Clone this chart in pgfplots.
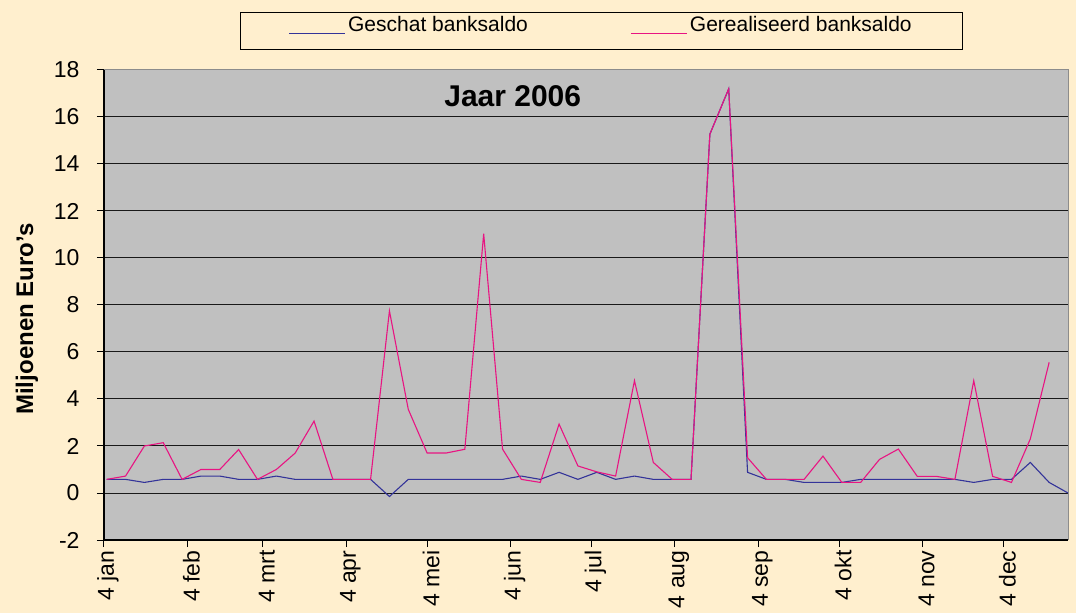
\documentclass[border=0pt]{standalone}
\usepackage{fontspec}
\setmainfont{Liberation Sans}
\usepackage{pgfplots}
\pgfplotsset{compat=1.18}
\usepackage{pgfplotstable}
\definecolor{bgcream}{RGB}{255,239,206}
\definecolor{plotgray}{RGB}{192,192,192}
\definecolor{geschat}{RGB}{51,51,153}
\definecolor{gereal}{RGB}{232,20,130}
\pgfplotstableread{
day val
1 0.58
8 0.58
15 0.45
22 0.58
29 0.58
36 0.72
43 0.72
50 0.58
57 0.58
64 0.72
71 0.58
78 0.58
85 0.58
92 0.58
99 0.58
106 -0.15
113 0.58
120 0.58
127 0.58
134 0.58
141 0.58
148 0.58
155 0.72
162 0.58
169 0.88
176 0.58
183 0.88
190 0.58
197 0.72
204 0.58
211 0.58
218 0.58
225 15.27
232 17.2
239 0.88
246 0.58
253 0.58
260 0.45
267 0.45
274 0.45
281 0.58
288 0.58
295 0.58
302 0.58
309 0.58
316 0.58
323 0.45
330 0.58
337 0.58
344 1.3
351 0.45
358 0.0
}\geschattab
\pgfplotstableread{
day val
1 0.58
8 0.72
15 2.0
22 2.14
29 0.58
36 1.0
43 1.0
50 1.85
57 0.58
64 1.0
71 1.7
78 3.06
85 0.58
92 0.58
99 0.58
106 7.75
113 3.56
120 1.7
127 1.7
134 1.86
141 11.03
148 1.87
155 0.58
162 0.45
169 2.93
176 1.15
183 0.9
190 0.72
197 4.78
204 1.3
211 0.58
218 0.58
225 15.27
232 17.2
239 1.5
246 0.58
253 0.58
260 0.58
267 1.57
274 0.45
281 0.45
288 1.43
295 1.87
302 0.71
309 0.71
316 0.58
323 4.78
330 0.71
337 0.45
344 2.3
351 5.56
}\gerealtab
\begin{document}
\begin{tikzpicture}
\fill[bgcream] (0,0) rectangle (1076pt,613pt);
\useasboundingbox (0,0) rectangle (1076pt,613pt);
\begin{axis}[
  at={(104pt,73pt)}, anchor=south west,
  width=964pt, height=470pt, scale only axis,
  xmin=0, xmax=358, ymin=-2, ymax=18,
  axis background/.style={fill=plotgray},
  axis x line*=bottom, axis y line*=left,
  axis line style={black, line width=1.2pt},
  tick align=outside, major tick length=7pt,
  tick style={black, line width=1pt},
  ytick={-2,0,2,4,6,8,10,12,14,16},
  yticklabels={-2,0,2,4,6,8,10,12,14,16},
  extra y ticks={18}, extra y tick labels={18},
  extra y tick style={grid=none},
  ymajorgrids,
  grid style={black!90, line width=1pt},
  xtick={0,31,59,90,120,151,181,212,243,273,304,334},
  xticklabels={4 jan,4 feb,4 mrt,4 apr,4 mei,4 jun,4 jul,4 aug,4 sep,4 okt,4 nov,4 dec},
  x tick label style={rotate=90, anchor=east, yshift=-4pt, font=\fontsize{23pt}{27pt}\selectfont},
  y tick label style={xshift=-14pt, font=\fontsize{23pt}{27pt}\selectfont},
  ylabel={Miljoenen Euro{\char"27}s},
  every axis y label/.style={at={(rel axis cs:-0.0799,0.470)}, rotate=90, anchor=center, font=\bfseries\fontsize{24pt}{28pt}\selectfont},
  title={Jaar 2006},
  every axis title/.style={at={(rel axis cs:0.424,0.945)}, anchor=center, font=\bfseries\fontsize{30pt}{34pt}\selectfont},
  legend columns=2,
  legend style={at={(rel axis cs:0.516,1.084)}, anchor=center,
    draw=black, line width=1pt, fill=bgcream,
    inner xsep=48.5pt, inner ysep=1.5pt,
    font=\fontsize{21pt}{25pt}\selectfont,
    nodes={inner sep=2.5pt, text height=15.5pt, text depth=13.5pt},
    /tikz/every even column/.append style={column sep=100pt}},
  legend image code/.code={\draw[#1, line width=1pt] (0pt,-3pt) -- (56pt,-3pt);},
  after end axis/.code={\draw[black!45, line width=1pt] (rel axis cs:0,1) -- (rel axis cs:1,1) -- (rel axis cs:1,0);},
]
\addplot[geschat, line width=1.1pt] table[x=day, y=val] {\geschattab};
\addlegendentry{Geschat banksaldo}
\addplot[gereal, line width=1.1pt] table[x=day, y=val] {\gerealtab};
\addlegendentry{Gerealiseerd banksaldo}
\end{axis}
\end{tikzpicture}
\end{document}
